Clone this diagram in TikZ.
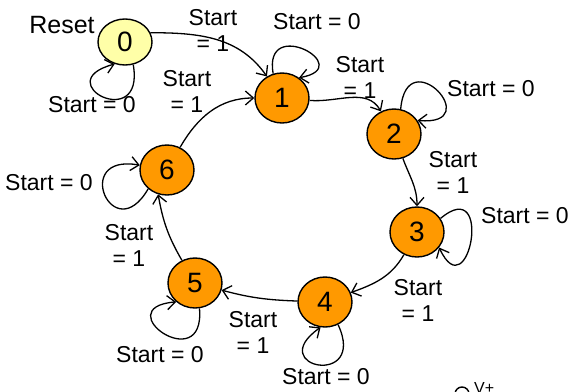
\documentclass[tikz,border=0pt]{standalone}
\usepackage{fontspec}
\setmainfont{Liberation Sans}
\usepackage{tikz}
\usetikzlibrary{shapes, arrows.meta}
\usetikzlibrary{positioning}

\definecolor{stateorange}{RGB}{255,153,0}
\definecolor{resetyellow}{RGB}{255,255,168}

\tikzstyle{state} = [ellipse, minimum width = 54, minimum height = 50,
  inner sep = 0, draw = black, line width = 1.4, fill = stateorange,
  font = \fontsize{28}{30}\selectfont]
\tikzstyle{resetstate} = [state, fill = resetyellow, minimum height = 46]
\tikzstyle{lbl} = [
  inner sep = 0, align = center,
  font = \fontsize{23}{26}\selectfont
]
\tikzstyle{trans} = [-{Straight Barb[length = 8pt, width = 14pt]},
  line width = 1.3]
\tikzstyle{selfloop} = [trans, distance = 70]

\begin{document}
\begin{tikzpicture}[x = 1pt, y = 1pt, node distance = 0]
      \useasboundingbox (0, 0) rectangle (572, -391);
      % states
      \node [resetstate] (s0) at (125, -42) {0};
      \node [state, right of = s0, xshift = 157, yshift = -56] (s1) {1};
      \node [state, right of = s1, xshift = 112, yshift = -36] (s2) {2};
      \node [state, right of = s2, xshift = 23, yshift = -98] (s3) {3};
      \node [state, right of = s3, xshift = -92, yshift = -70] (s4) {4};
      \node [state, right of = s4, xshift = -130, yshift = 19] (s5) {5};
      \node [state, right of = s5, xshift = -28, yshift = 113] (s6) {6};
      % labels
      \node [lbl, font = \fontsize{25}{28}\selectfont, right of = s0,
        xshift = -63, yshift = 17] (reset) {Reset};
      \node [lbl, right of = s0, xshift = -33, yshift = -63] (l-0-0) {Start = 0};
      \node [lbl, right of = s0, xshift = 88, yshift = 12] (l-0-1) {Start\\= 1};
      \node [lbl, right of = s1, xshift = 35, yshift = 76] (l-1-1) {Start = 0};
      \node [lbl, right of = s1, xshift = 78, yshift = 21] (l-1-2) {Start\\= 1};
      \node [lbl, right of = s2, xshift = 97, yshift = 45] (l-2-2) {Start = 0};
      \node [lbl, right of = s2, xshift = 59, yshift = -38] (l-2-3) {Start\\= 1};
      \node [lbl, right of = s3, xshift = 108, yshift = 16] (l-3-3) {Start = 0};
      \node [lbl, right of = s3, xshift = 1, yshift = -68] (l-3-4) {Start\\= 1};
      \node [lbl, right of = s4, xshift = 1, yshift = -75] (l-4-4) {Start = 0};
      \node [lbl, right of = s4, xshift = -72, yshift = -30] (l-4-5) {Start\\= 1};
      \node [lbl, right of = s5, xshift = -35, yshift = -72] (l-5-5) {Start = 0};
      \node [lbl, right of = s5, xshift = -66, yshift = 38] (l-5-6) {Start\\= 1};
      \node [lbl, right of = s6, xshift = -118, yshift = -13] (l-6-6) {Start = 0};
      \node [lbl, right of = s6, xshift = 20, yshift = 79] (l-6-1) {Start\\= 1};
      % supply mark, cut by the page edge
      \node [circle, draw, line width = 1.4, minimum size = 14, inner sep = 0]
        (vcc) at (462, -394) {};
      \node [lbl, font = \fontsize{16}{18}\selectfont, anchor = north west]
        (vplus) at (474, -382) {V+};

      \draw [trans] (s0.20) to [out = 0, in = 125] (s1.125);
      \draw [trans] (s1) to [out = -5, in = 120] (s2);
      \draw [trans] (s2) to [out = -70, in = 90] (s3);
      \draw [trans] (s3) to [out = -120, in = 20] (s4);
      \draw [trans] (s4) to [out = 178, in = -15] (s5);
      \draw [trans] (s5) to [out = 120, in = -80] (s6.-110);
      \draw [trans] (s6) to [out = 60, in = 180] (s1);

      \draw [selfloop] (s0.-70) to [out = -80, in = -165] (s0.-115);
      \draw [selfloop, distance = 60] (s1.110) to [out = 100, in = 10] (s1.50);
      \draw [selfloop] (s2.75) to [out = 85, in = -5] (s2.30);
      \draw [selfloop] (s3.30) to [out = 40, in = -65] (s3.-35);
      \draw [selfloop] (s4.-60) to [out = -65, in = -145] (s4.-100);
      \draw [selfloop] (s5.-80) to [out = -85, in = -175] (s5.-135);
      \draw [selfloop] (s6.-135) to [out = -120, in = 170] (s6.170);
    \end{tikzpicture}
\end{document}
